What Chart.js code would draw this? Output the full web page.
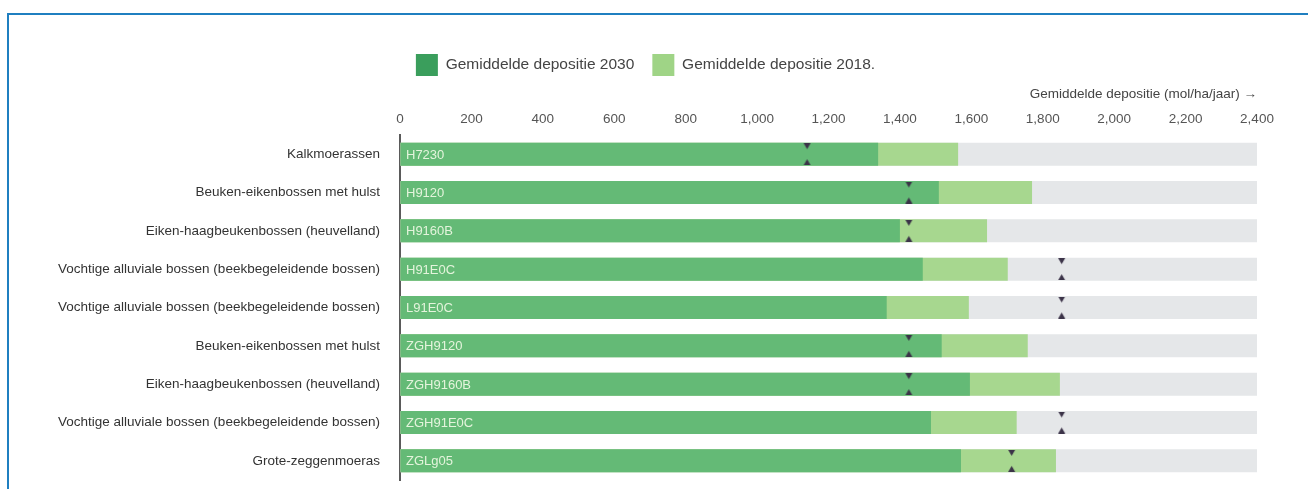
<!DOCTYPE html>
<html>
<head>
<meta charset="utf-8">
<script src="https://cdn.jsdelivr.net/npm/chart.js@4"></script>
<style>
  html, body { margin: 0; padding: 0; background: #fff; overflow: hidden; }
  #frame { position: absolute; left: 7px; top: 13px; right: 0; height: 500px;
           border-top: 2px solid #1f7fc0; border-left: 2px solid #1f7fc0; }
  #wrap { position: absolute; left: 0; top: 0; width: 1308px; height: 489px; }
</style>
</head>
<body>
<div id="frame"></div>
<div id="wrap"><canvas id="chart"></canvas></div>
<script>
// habitat names, codes and values
const habitats = [
  'Kalkmoerassen',
  'Beuken-eikenbossen met hulst',
  'Eiken-haagbeukenbossen (heuvelland)',
  'Vochtige alluviale bossen (beekbegeleidende bossen)',
  'Vochtige alluviale bossen (beekbegeleidende bossen)',
  'Beuken-eikenbossen met hulst',
  'Eiken-haagbeukenbossen (heuvelland)',
  'Vochtige alluviale bossen (beekbegeleidende bossen)',
  'Grote-zeggenmoeras'
];
const codes = ['H7230', 'H9120', 'H9160B', 'H91E0C', 'L91E0C', 'ZGH9120', 'ZGH9160B', 'ZGH91E0C', 'ZGLg05'];
const deposition2030 = [1339, 1509, 1400, 1464, 1363, 1517, 1596, 1487, 1571];
const deposition2018 = [1563, 1770, 1644, 1702, 1593, 1758, 1848, 1727, 1837];
const criticalLoad = [1140, 1425, 1425, 1853, 1853, 1425, 1425, 1853, 1713];
const axisRange = [2400, 2400, 2400, 2400, 2400, 2400, 2400, 2400, 2400];

const FONT = '"Liberation Sans", Arial, sans-serif';

// two small triangles (above and below the bar) in one point image
function markerImage() {
  const c = document.createElement('canvas');
  c.width = 9;
  c.height = 22;
  const g = c.getContext('2d');
  g.fillStyle = '#3b3348';
  g.beginPath(); g.moveTo(1, 0); g.lineTo(8, 0); g.lineTo(4.5, 6); g.closePath(); g.fill();
  g.beginPath(); g.moveTo(1, 22); g.lineTo(8, 22); g.lineTo(4.5, 16); g.closePath(); g.fill();
  return c;
}

const codeLabels = {
  id: 'codeLabels',
  afterDatasetsDraw(chart) {
    const { ctx, scales } = chart;
    const x = scales.x.getPixelForValue(0) + 6;
    ctx.save();
    ctx.font = '13px ' + FONT;
    ctx.fillStyle = '#e4f4dc';
    ctx.textBaseline = 'middle';
    codes.forEach((c, i) => ctx.fillText(c, x, scales.y.getPixelForValue(i) + 1));
    ctx.restore();
  }
};

const legendColors = ['#3a9e5c', '#9fd486'];

new Chart(document.getElementById('chart'), {
  type: 'bar',
  data: {
    labels: habitats,
    datasets: [
      {
        type: 'line',
        label: 'Kritische depositiewaarde',
        data: criticalLoad,
        showLine: false,
        pointStyle: markerImage(),
        pointRadius: 5,
        order: -1
      },
      {
        label: 'Gemiddelde depositie 2030',
        data: deposition2030,
        backgroundColor: '#64ba76',
        grouped: false,
        order: 1
      },
      {
        label: 'Gemiddelde depositie 2018.',
        data: deposition2018,
        backgroundColor: '#a7d78f',
        grouped: false,
        order: 2
      },
      {
        label: 'range',
        data: axisRange,
        backgroundColor: '#e5e7e9',
        grouped: false,
        order: 3
      }
    ]
  },
  options: {
    indexAxis: 'y',
    responsive: true,
    maintainAspectRatio: false,
    animation: false,
    barPercentage: 0.6,
    categoryPercentage: 1,
    layout: { padding: { left: 34, right: 51, top: 36, bottom: 9 } },
    plugins: {
      tooltip: { enabled: false },
      legend: {
        position: 'top',
        labels: {
          boxWidth: 22,
          boxHeight: 22,
          padding: 18,
          color: '#444',
          font: { family: FONT, size: 15.5 },
          filter: item => item.text !== 'range' && item.text !== 'Kritische depositiewaarde',
          generateLabels: chart => Chart.defaults.plugins.legend.labels.generateLabels(chart).map(item => {
            if (item.text === 'Gemiddelde depositie 2030') item.fillStyle = legendColors[0];
            if (item.text === 'Gemiddelde depositie 2018.') item.fillStyle = legendColors[1];
            item.lineWidth = 0;
            return item;
          })
        }
      }
    },
    scales: {
      x: {
        position: 'top',
        min: 0,
        max: 2400,
        z: 1,
        border: { display: false },
        grid: {
          drawTicks: false,
          color: ctx => ctx.tick && ctx.tick.value === 0 ? 'rgba(0,0,0,0)' : 'rgba(255,255,255,0.7)'
        },
        ticks: {
          stepSize: 200,
          padding: 8,
          color: '#555',
          font: { family: FONT, size: 13.5 }
        },
        title: {
          display: true,
          text: 'Gemiddelde depositie (mol/ha/jaar) \u2192',
          align: 'end',
          color: '#444',
          padding: { top: 0, bottom: 4 },
          font: { family: FONT, size: 13.5 }
        },
        afterFit: scale => { scale.height = 49; }
      },
      y: {
        grid: { display: false },
        border: { color: '#5a5a5a', width: 2 },
        ticks: {
          padding: 12,
          color: '#333',
          font: { family: FONT, size: 13.5 }
        },
        afterFit: scale => {
          scale.width = 366;
          scale.paddingTop = 0;
          scale.paddingBottom = 0;
        }
      }
    }
  },
  plugins: [codeLabels]
});
</script>
</body>
</html>
